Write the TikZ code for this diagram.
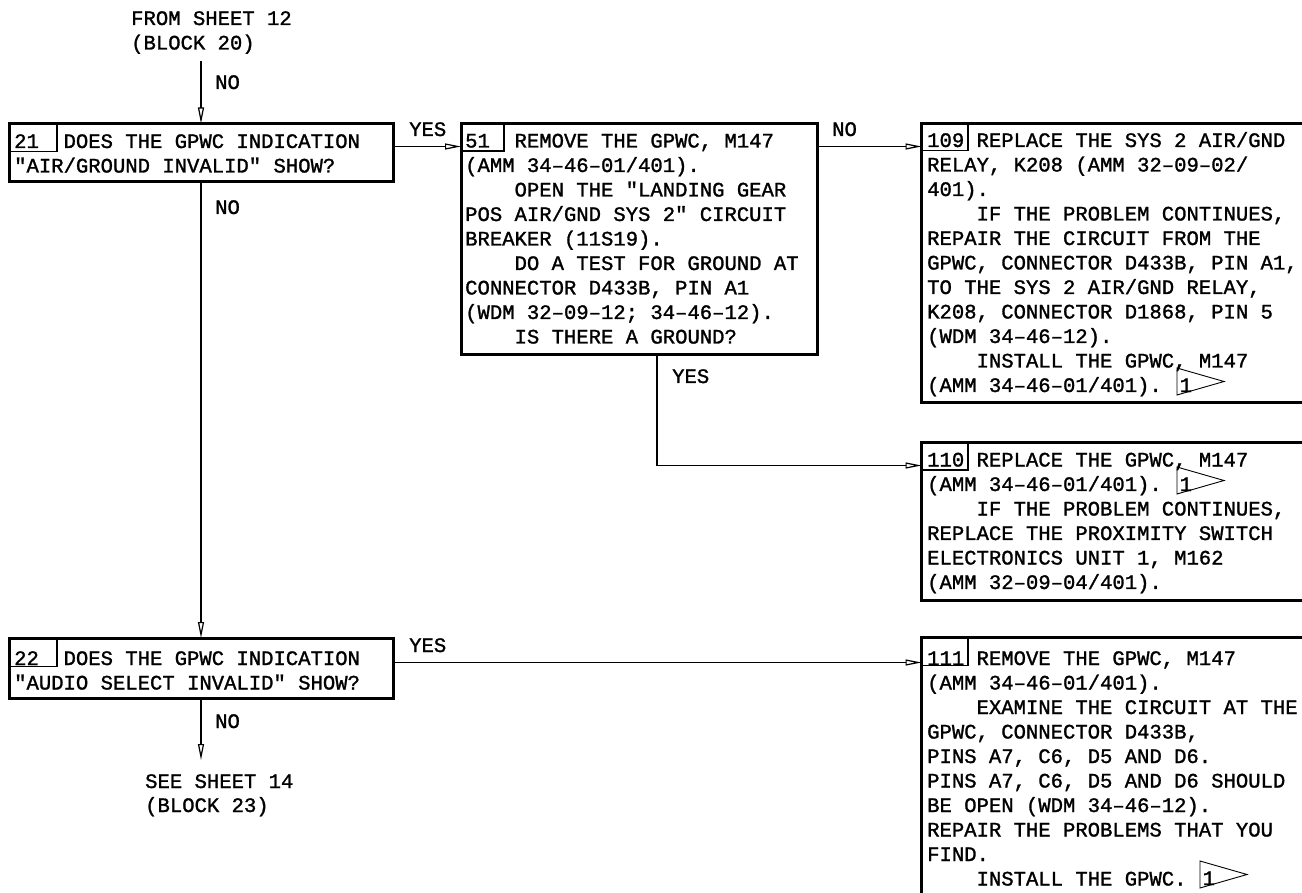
\documentclass[tikz,border=0pt]{standalone}
\usepackage{fontspec}
\newfontfamily\cmmfont[FakeBold=1.3]{Liberation Mono}
\usetikzlibrary{arrows.meta}
\newcommand\cmmspaces{\frenchspacing\spaceskip=\fontcharwd\font`\0\relax\xspaceskip=\spaceskip}
\newcommand\cmmsize{\cmmfont\fontsize{20.58}{24.5}\selectfont\cmmspaces}
\newcommand\cmmflag[3]{%
  \draw[flagline] (#1,#2+3) -- (#1,#2-24) -- (#1+47,#2-10.5) -- cycle;
  \node[lbl] (#3) at (#1+2.5,#2) {1};}
\begin{document}
\begin{tikzpicture}[x=1pt,y=-1pt,
  box/.style={draw, line width=3pt, rectangle, inner sep=0pt, outer sep=0pt, anchor=north west},
  cell/.style={line width=1.1pt},
  flagline/.style={line width=0.9pt},
  txt/.style={anchor=base west, inner sep=0pt, align=left, text width=400pt, font=\cmmsize,
    execute at begin node=\cmmspaces},
  lbl/.style={anchor=base west, inner sep=0pt, font=\cmmsize},
  conn/.style={line width=1.1pt},
  arr/.style={conn, -{Triangle[open, length=16pt, width=6pt, line width=1.2pt]}},
]
\useasboundingbox (0,0) rectangle (1302,893);
\fill[white] (0,0) rectangle (1302,893);

% boxes
\node[box, minimum width=383.5pt, minimum height=58.5pt] (b21) at (9.5,123.5) {};
\node[box, minimum width=356pt, minimum height=231.5pt] (b51) at (461,123.5) {};
\node[box, minimum width=400pt, minimum height=279.5pt] (b109) at (921.5,123.5) {};
\node[box, minimum width=400pt, minimum height=158pt] (b110) at (921.5,442) {};
\node[box, minimum width=400pt, minimum height=300pt] (b111) at (921.5,637.5) {};
\node[box, minimum width=383.5pt, minimum height=60.5pt] (b22) at (9.5,638) {};

% number cells
\draw[cell] (b21.north west) rectangle (57,151.5);
\draw[cell] (b51.north west) rectangle (504,151);
\draw[cell] (b109.north west) rectangle (968,150.5);
\draw[cell] (b110.north west) rectangle (968,470);
\draw[cell] (b111.north west) rectangle (968,665.5);
\draw[cell] (b22.north west) rectangle (57,666.5);

% texts
\node[txt] (t21) at (14,148) {\cmmspaces 21\phantom{00}DOES THE GPWC INDICATION\\"AIR/GROUND INVALID" SHOW?};
\node[txt] (t22) at (14,665) {\cmmspaces 22\phantom{00}DOES THE GPWC INDICATION\\"AUDIO SELECT INVALID" SHOW?};
\node[txt] (t51) at (465,147.5) {\cmmspaces 51\phantom{00}REMOVE THE GPWC, M147\\
(AMM 34–46–01/401).\\
\phantom{0000}OPEN THE "LANDING GEAR\\
POS AIR/GND SYS 2" CIRCUIT\\
BREAKER (11S19).\\
\phantom{0000}DO A TEST FOR GROUND AT\\
CONNECTOR D433B, PIN A1\\
(WDM 32–09–12; 34–46–12).\\
\phantom{0000}IS THERE A GROUND?};
\node[txt] (t109) at (927,147) {\cmmspaces 109 REPLACE THE SYS 2 AIR/GND\\
RELAY, K208 (AMM 32–09–02/\\
401).\\
\phantom{0000}IF THE PROBLEM CONTINUES,\\
REPAIR THE CIRCUIT FROM THE\\
GPWC, CONNECTOR D433B, PIN A1,\\
TO THE SYS 2 AIR/GND RELAY,\\
K208, CONNECTOR D1868, PIN 5\\
(WDM 34–46–12).\\
\phantom{0000}INSTALL THE GPWC, M147\\
(AMM 34–46–01/401).};
\node[txt] (t110) at (927,466.5) {\cmmspaces 110 REPLACE THE GPWC, M147\\
(AMM 34–46–01/401).\\
\phantom{0000}IF THE PROBLEM CONTINUES,\\
REPLACE THE PROXIMITY SWITCH\\
ELECTRONICS UNIT 1, M162\\
(AMM 32–09–04/401).};
\node[txt] (t111) at (927,665) {\cmmspaces 111 REMOVE THE GPWC, M147\\
(AMM 34–46–01/401).\\
\phantom{0000}EXAMINE THE CIRCUIT AT THE\\
GPWC, CONNECTOR D433B,\\
PINS A7, C6, D5 AND D6.\\
PINS A7, C6, D5 AND D6 SHOULD\\
BE OPEN (WDM 34–46–12).\\
REPAIR THE PROBLEMS THAT YOU\\
FIND.\\
\phantom{0000}INSTALL THE GPWC.};

% flags
\cmmflag{1177}{392}{f109}
\cmmflag{1177}{491}{f110}
\cmmflag{1200}{885}{f111}

% off-sheet references
\node[lbl] (from1) at (131,25) {FROM SHEET 12};
\node[lbl] (from2) at (131,49.5) {(BLOCK 20)};
\node[lbl] (see1) at (145,788) {SEE SHEET 14};
\node[lbl] (see2) at (145,812) {(BLOCK 23)};
\coordinate (top) at (201,61);
\coordinate (bot) at (201,760);

% connectors
\draw[arr] (top) -- (top |- b21.north);
\draw[arr] ([yshift=-23pt]b21.north east) -- ([yshift=-23pt]b51.north west);
\draw[arr] ([yshift=-23pt]b51.north east) -- ([yshift=-23pt]b109.north west);
\draw[arr] ([xshift=196pt]b51.south west) |- ([yshift=-23.5pt]b110.north west);
\draw[arr] (b21.south -| top) -- (b22.north -| top);
\draw[arr] ([yshift=-24.5pt]b22.north east) -- ([yshift=-25pt]b111.north west);
\draw[arr] (b22.south -| bot) -- (bot);

% labels
\node[lbl] (l1) at (215,89) {NO};
\node[lbl] (l2) at (409,136) {YES};
\node[lbl] (l3) at (832,136) {NO};
\node[lbl] (l4) at (672,383) {YES};
\node[lbl] (l5) at (215,214) {NO};
\node[lbl] (l6) at (409,652) {YES};
\node[lbl] (l7) at (215,728) {NO};
\end{tikzpicture}
\end{document}
